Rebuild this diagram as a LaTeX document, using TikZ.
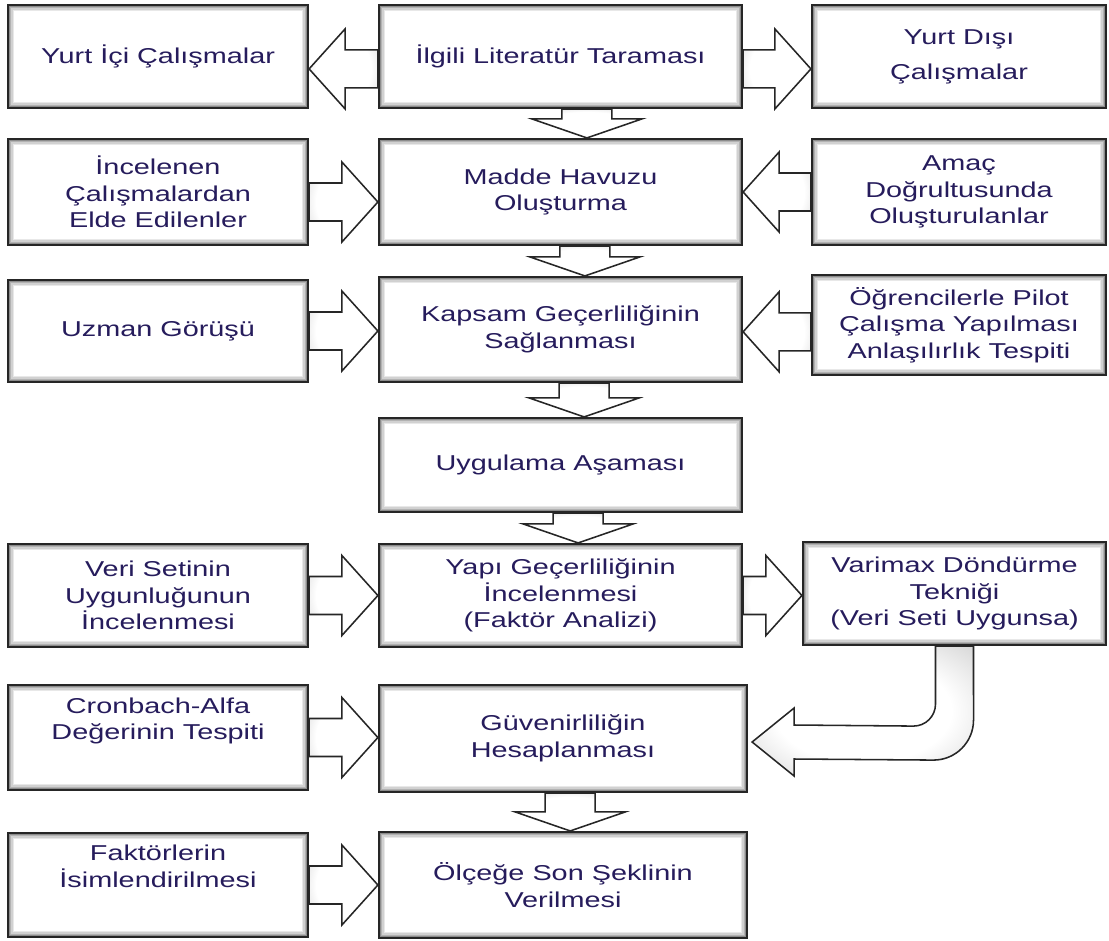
\documentclass[tikz,border=0pt]{standalone}
\usepackage{fontspec}
\setmainfont{Liberation Sans}[FakeStretch=1.34]
\usepackage{tikz}
\usetikzlibrary{calc}
\definecolor{ink}{RGB}{38,28,92}
\pgfdeclareradialshading{bevel}{\pgfpoint{0bp}{0bp}}{color(0bp)=(white); color(20bp)=(white); color(50bp)=(black!30)}
\tikzset{
  blockarrow/.style n args={3}{to path={
    ($(\tikztostart)!#1!90:(\tikztotarget)$)
    -- ($(\tikztotarget)!#3!(\tikztostart)!#1!90:(\tikztotarget)$)
    -- ($(\tikztotarget)!#3!(\tikztostart)!#2!90:(\tikztotarget)$)
    -- (\tikztotarget)
    -- ($(\tikztotarget)!#3!(\tikztostart)!#2!-90:(\tikztotarget)$)
    -- ($(\tikztotarget)!#3!(\tikztostart)!#1!-90:(\tikztotarget)$)
    -- ($(\tikztostart)!#1!-90:(\tikztotarget)$) -- cycle}},
  sidearrow/.style={arrowlook, blockarrow={0.475cm}{1cm}{0.9cm}},
  downarrow/.style={arrowlook, blockarrow={0.625cm}{1.375cm}{0.475cm}},
}
\tikzstyle{stage}=[draw=black!85, line width=1.5pt, fill=white, text=ink, align=center, inner sep=2pt,
  font=\fontsize{15.3}{18.8}\selectfont,
  path picture={\foreach \d/\g in {1.3/45,2.1/30,2.9/18,3.7/9}
    \draw[black!\g, line width=0.9pt]
      ([xshift=\d pt,yshift=-\d pt]path picture bounding box.north west) rectangle
      ([xshift=-\d pt,yshift=\d pt]path picture bounding box.south east);}]
\tikzstyle{arrowlook}=[draw=black!85, line width=1.1pt, shading=bevel]

\begin{document}
\begin{tikzpicture}[x=0.025cm, y=-0.025cm]
  \useasboundingbox (0,0) rectangle (1109,940);
  \node[stage, minimum width=7.5cm, minimum height=2.575cm] (yurtici) at (158,56.5) {Yurt İçi Çalışmalar};
  \node[stage, minimum width=9.075cm, minimum height=2.575cm] (lit) at (560.5,56.5) {İlgili Literatür Taraması};
  \node[stage, minimum width=7.35cm, minimum height=2.575cm] (yurtdisi) at (959,56.5) {Yurt Dışı\\[6pt]Çalışmalar};

  \node[stage, minimum width=7.5cm, minimum height=2.65cm] (incelenen) at (158,192) {İncelenen\\Çalışmalardan\\Elde Edilenler};
  \node[stage, minimum width=9.075cm, minimum height=2.65cm] (madde) at (560.5,192) {Madde Havuzu\\Oluşturma};
  \node[stage, minimum width=7.35cm, minimum height=2.65cm] (amac) at (959,192) {Amaç\\Doğrultusunda\\Oluşturulanlar};

  \node[stage, minimum width=7.5cm, minimum height=2.55cm] (uzman) at (158,331) {Uzman Görüşü};
  \node[stage, minimum width=9.075cm, minimum height=2.625cm] (kapsam) at (560.5,329.5) {Kapsam Geçerliliğinin\\Sağlanması};
  \node[stage, minimum width=7.35cm, minimum height=2.5cm] (ogrenci) at (959,325) {Öğrencilerle Pilot\\Çalışma Yapılması\\Anlaşılırlık Tespiti};

  \node[stage, minimum width=9.075cm, minimum height=2.35cm] (uyg) at (560.5,465) {Uygulama Aşaması};

  \node[stage, minimum width=7.5cm, minimum height=2.575cm] (veri) at (158,595.5) {Veri Setinin\\Uygunluğunun\\İncelenmesi};
  \node[stage, minimum width=9.075cm, minimum height=2.575cm] (yapi) at (560.5,595.5) {Yapı Geçerliliğinin\\İncelenmesi\\(Faktör Analizi)};
  \node[stage, minimum width=7.575cm, minimum height=2.575cm] (varimax) at (954.5,593.5) {Varimax Döndürme\\Tekniği\\(Veri Seti Uygunsa)};

  \node[stage, minimum width=7.5cm, minimum height=2.625cm] (cronbach) at (158,737.5) {Cronbach-Alfa\\Değerinin Tespiti\\[8pt]\mbox{}};
  \node[stage, minimum width=9.2cm, minimum height=2.675cm] (guven) at (563,738.5) {Güvenirliliğin\\Hesaplanması};

  \node[stage, minimum width=7.5cm, minimum height=2.6cm] (faktor) at (158,885) {Faktörlerin\\İsimlendirilmesi\\[8pt]\mbox{}};
  \node[stage, minimum width=9.2cm, minimum height=2.65cm] (olcek) at (563,885) {Ölçeğe Son Şeklinin\\Verilmesi};

  \foreach \a/\b/\s in {lit/madde/0.66, madde/kapsam/0.61, kapsam/uyg/0.59, uyg/yapi/0.44, guven/olcek/0.18}
    \draw[downarrow] ([xshift=\s cm]\a.south) to ([xshift=\s cm]\a.south |- \b.north);
  \foreach \a/\b/\s in {lit.west/yurtici.east/-0.31, lit.east/yurtdisi.west/-0.31, incelenen.east/madde.west/-0.25,
      amac.west/madde.east/0, uzman.east/kapsam.west/0, ogrenci.west/kapsam.east/-0.17, veri.east/yapi.west/0,
      yapi.east/varimax.west/0, cronbach.east/guven.west/0, faktor.east/olcek.west/0}
    \draw[sidearrow] ([yshift=\s cm]\a) to ([yshift=\s cm]\a -| \b);
  \draw[arrowlook] ($(varimax.south)+(-19,0)$) -- ++(0,58)
    arc[start angle=0, end angle=-90, radius=0.55cm]
    -- ($(guven.east)+(46,-13.5)$) -- ++(0,-17) -- ($(guven.east)+(4,3.5)$)
    -- ($(guven.east)+(46,37.5)$) -- ++(0,-17)
    -- ($(varimax.south)+(-21,114)$) arc[start angle=-90, end angle=0, radius=1cm]
    -- ($(varimax.south)+(19,0)$) -- cycle;
\end{tikzpicture}
\end{document}
